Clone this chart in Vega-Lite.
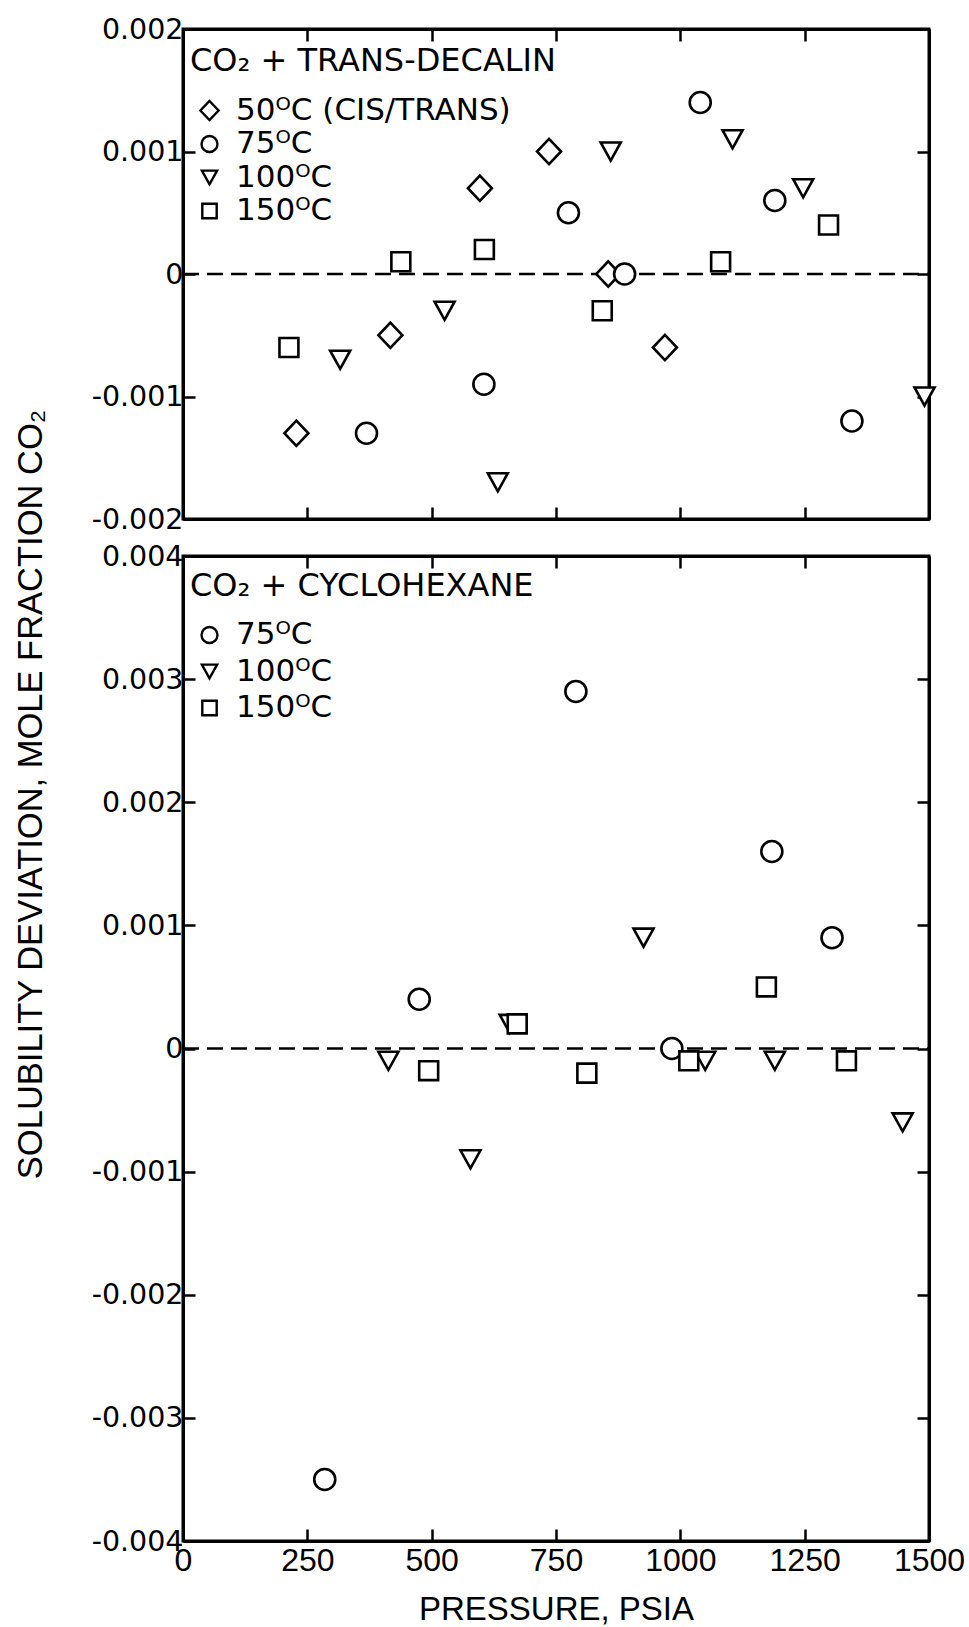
{
  "$schema": "https://vega.github.io/schema/vega-lite/v6.json",
  "background": "white",
  "autosize": {"type": "pad"},
  "padding": {"left": 14, "top": 13, "right": 10, "bottom": 0},
  "title": {
    "text": "SOLUBILITY DEVIATION, MOLE FRACTION CO₂",
    "orient": "left",
    "anchor": "middle",
    "font": "Liberation Sans",
    "fontSize": 34.5,
    "fontWeight": "normal",
    "color": "black",
    "offset": 40,
    "dx": 26
  },
  "config": {
    "view": {"stroke": "black", "strokeWidth": 3},
    "axis": {
      "grid": false,
      "domainColor": "black",
      "domainWidth": 3,
      "tickColor": "black",
      "tickWidth": 2.5,
      "tickSize": -12,
      "labelColor": "black",
      "labelFontWeight": "normal",
      "title": null
    }
  },
  "datasets": {
    "frame": [{"p0": 0, "p1": 1500, "zero": 0}],
    "decalin": [
      {"series": "50ᴼC (CIS/TRANS)", "p": 228, "dev": -0.0013},
      {"series": "50ᴼC (CIS/TRANS)", "p": 417, "dev": -0.0005},
      {"series": "50ᴼC (CIS/TRANS)", "p": 597, "dev": 0.0007},
      {"series": "50ᴼC (CIS/TRANS)", "p": 736, "dev": 0.001},
      {"series": "50ᴼC (CIS/TRANS)", "p": 855, "dev": 0},
      {"series": "50ᴼC (CIS/TRANS)", "p": 969, "dev": -0.0006},
      {"series": "75ᴼC", "p": 369, "dev": -0.0013},
      {"series": "75ᴼC", "p": 605, "dev": -0.0009},
      {"series": "75ᴼC", "p": 775, "dev": 0.0005},
      {"series": "75ᴼC", "p": 888, "dev": 0},
      {"series": "75ᴼC", "p": 1040, "dev": 0.0014},
      {"series": "75ᴼC", "p": 1190, "dev": 0.0006},
      {"series": "75ᴼC", "p": 1345, "dev": -0.0012},
      {"series": "100ᴼC", "p": 316, "dev": -0.0007},
      {"series": "100ᴼC", "p": 526, "dev": -0.0003},
      {"series": "100ᴼC", "p": 633, "dev": -0.0017},
      {"series": "100ᴼC", "p": 860, "dev": 0.001},
      {"series": "100ᴼC", "p": 1105, "dev": 0.0011},
      {"series": "100ᴼC", "p": 1247, "dev": 0.0007},
      {"series": "100ᴼC", "p": 1491, "dev": -0.001},
      {"series": "150ᴼC", "p": 213, "dev": -0.0006},
      {"series": "150ᴼC", "p": 438, "dev": 0.0001},
      {"series": "150ᴼC", "p": 606, "dev": 0.0002},
      {"series": "150ᴼC", "p": 843, "dev": -0.0003},
      {"series": "150ᴼC", "p": 1081, "dev": 0.0001},
      {"series": "150ᴼC", "p": 1298, "dev": 0.0004}
    ],
    "cyclohexane": [
      {"series": "75ᴼC", "p": 285, "dev": -0.0035},
      {"series": "75ᴼC", "p": 475, "dev": 0.0004},
      {"series": "75ᴼC", "p": 790, "dev": 0.0029},
      {"series": "75ᴼC", "p": 983, "dev": 0},
      {"series": "75ᴼC", "p": 1184, "dev": 0.0016},
      {"series": "75ᴼC", "p": 1305, "dev": 0.0009},
      {"series": "100ᴼC", "p": 413, "dev": -0.0001},
      {"series": "100ᴼC", "p": 578, "dev": -0.0009},
      {"series": "100ᴼC", "p": 657, "dev": 0.0002},
      {"series": "100ᴼC", "p": 926, "dev": 0.0009},
      {"series": "100ᴼC", "p": 1050, "dev": -0.0001},
      {"series": "100ᴼC", "p": 1190, "dev": -0.0001},
      {"series": "100ᴼC", "p": 1447, "dev": -0.0006},
      {"series": "150ᴼC", "p": 494, "dev": -0.00018},
      {"series": "150ᴼC", "p": 672, "dev": 0.0002},
      {"series": "150ᴼC", "p": 812, "dev": -0.0002},
      {"series": "150ᴼC", "p": 1017, "dev": -0.0001},
      {"series": "150ᴼC", "p": 1173, "dev": 0.0005},
      {"series": "150ᴼC", "p": 1334, "dev": -0.0001}
    ]
  },
  "bounds": "flush",
  "spacing": 37,
  "resolve": {
    "scale": {"x": "independent", "y": "independent", "shape": "independent"},
    "legend": {"shape": "independent"}
  },
  "vconcat": [
    {
      "width": 746,
      "height": 490,
      "resolve": {"axis": {"x": "independent", "y": "independent"}},
      "layer": [
        {
          "data": {"name": "frame"},
          "mark": {"type": "rule", "color": "black", "strokeWidth": 2.5, "strokeDash": [16, 8]},
          "encoding": {
            "x": {"field": "p0", "type": "quantitative",
                  "scale": {"domain": [0, 1500], "nice": false, "zero": false},
                  "axis": {"orient": "top", "values": [0, 250, 500, 750, 1000, 1250, 1500], "labels": false, "domain": true}},
            "x2": {"field": "p1"},
            "y": {"field": "zero", "type": "quantitative",
                  "scale": {"domain": [-0.002, 0.002], "nice": false, "zero": false},
                  "axis": {"orient": "right", "values": [-0.002, -0.001, 0, 0.001, 0.002], "labels": false, "domain": true}}
          }
        },
        {
          "data": {"name": "decalin"},
          "mark": {"type": "point", "filled": false, "color": "black", "fill": "white", "strokeWidth": 2.6, "size": 484, "opacity": 1},
          "encoding": {
            "x": {"field": "p", "type": "quantitative",
                  "scale": {"domain": [0, 1500], "nice": false, "zero": false},
                  "axis": {"orient": "bottom", "values": [0, 250, 500, 750, 1000, 1250, 1500], "labels": false}},
            "y": {"field": "dev", "type": "quantitative",
                  "scale": {"domain": [-0.002, 0.002], "nice": false, "zero": false},
                  "axis": {"orient": "left", "values": [-0.002, -0.001, 0, 0.001, 0.002],
                           "labelExpr": "datum.value == 0 ? '0' : (datum.value < 0 ? '-' : '') + format(abs(datum.value), '.3f')",
                           "labelFont": "DejaVu Sans", "labelFontSize": 28.5, "labelPadding": 12}},
            "shape": {"field": "series", "type": "nominal",
                      "scale": {
                        "domain": ["50ᴼC (CIS/TRANS)", "75ᴼC", "100ᴼC", "150ᴼC"],
                        "range": [
                          "M0,-1.14L1.09,0L0,1.14L-1.09,0Z",
                          "M0.955,0A0.955,0.955,0,1,1,-0.955,0A0.955,0.955,0,1,1,0.955,0Z",
                          "M-0.91,-0.82L0.91,-0.82L0,0.82Z",
                          "M-0.86,-0.86L0.86,-0.86L0.86,0.86L-0.86,0.86Z"
                        ]
                      },
                      "legend": {
                        "orient": "none", "legendX": 7, "legendY": 17, "padding": 0,
                        "title": "CO₂ + TRANS-DECALIN",
                        "titleFont": "DejaVu Sans", "titleFontSize": 32, "titleFontWeight": "normal",
                        "titleColor": "black", "titleLimit": 600, "titlePadding": 17,
                        "labelFont": "DejaVu Sans", "labelFontSize": 31, "labelColor": "black",
                        "labelLimit": 600, "labelOffset": 11, "rowPadding": 1.5,
                        "symbolSize": 280, "symbolStrokeWidth": 2.4, "symbolOffset": 4
                      }}
          }
        }
      ]
    },
    {
      "width": 746,
      "height": 985,
      "resolve": {"axis": {"x": "independent", "y": "independent"}},
      "layer": [
        {
          "data": {"name": "frame"},
          "mark": {"type": "rule", "color": "black", "strokeWidth": 2.5, "strokeDash": [16, 8]},
          "encoding": {
            "x": {"field": "p0", "type": "quantitative",
                  "scale": {"domain": [0, 1500], "nice": false, "zero": false},
                  "axis": {"orient": "top", "values": [0, 250, 500, 750, 1000, 1250, 1500], "labels": false, "domain": true}},
            "x2": {"field": "p1"},
            "y": {"field": "zero", "type": "quantitative",
                  "scale": {"domain": [-0.004, 0.004], "nice": false, "zero": false},
                  "axis": {"orient": "right", "values": [-0.004, -0.003, -0.002, -0.001, 0, 0.001, 0.002, 0.003, 0.004], "labels": false, "domain": true}}
          }
        },
        {
          "data": {"name": "cyclohexane"},
          "mark": {"type": "point", "filled": false, "color": "black", "fill": "white", "strokeWidth": 2.6, "size": 484, "opacity": 1},
          "encoding": {
            "x": {"field": "p", "type": "quantitative",
                  "scale": {"domain": [0, 1500], "nice": false, "zero": false},
                  "axis": {"orient": "bottom", "values": [0, 250, 500, 750, 1000, 1250, 1500], "format": "d",
                           "labelFont": "Liberation Sans", "labelFontSize": 32, "labelPadding": 16,
                           "labelFlush": false,
                           "title": "PRESSURE, PSIA", "titleFont": "Liberation Sans", "titleFontSize": 33,
                           "titleFontWeight": "normal", "titleColor": "black", "titlePadding": 17}},
            "y": {"field": "dev", "type": "quantitative",
                  "scale": {"domain": [-0.004, 0.004], "nice": false, "zero": false},
                  "axis": {"orient": "left", "values": [-0.004, -0.003, -0.002, -0.001, 0, 0.001, 0.002, 0.003, 0.004],
                           "labelExpr": "datum.value == 0 ? '0' : (datum.value < 0 ? '-' : '') + format(abs(datum.value), '.3f')",
                           "labelFont": "DejaVu Sans", "labelFontSize": 28.5, "labelPadding": 12}},
            "shape": {"field": "series", "type": "nominal",
                      "scale": {
                        "domain": ["75ᴼC", "100ᴼC", "150ᴼC"],
                        "range": [
                          "M0.955,0A0.955,0.955,0,1,1,-0.955,0A0.955,0.955,0,1,1,0.955,0Z",
                          "M-0.91,-0.82L0.91,-0.82L0,0.82Z",
                          "M-0.86,-0.86L0.86,-0.86L0.86,0.86L-0.86,0.86Z"
                        ]
                      },
                      "legend": {
                        "orient": "none", "legendX": 7, "legendY": 15, "padding": 0,
                        "title": "CO₂ + CYCLOHEXANE",
                        "titleFont": "DejaVu Sans", "titleFontSize": 32, "titleFontWeight": "normal",
                        "titleColor": "black", "titleLimit": 600, "titlePadding": 16.5,
                        "labelFont": "DejaVu Sans", "labelFontSize": 31, "labelColor": "black",
                        "labelLimit": 600, "labelOffset": 11, "rowPadding": 4.5,
                        "symbolSize": 280, "symbolStrokeWidth": 2.4, "symbolOffset": 4
                      }}
          }
        }
      ]
    }
  ]
}
